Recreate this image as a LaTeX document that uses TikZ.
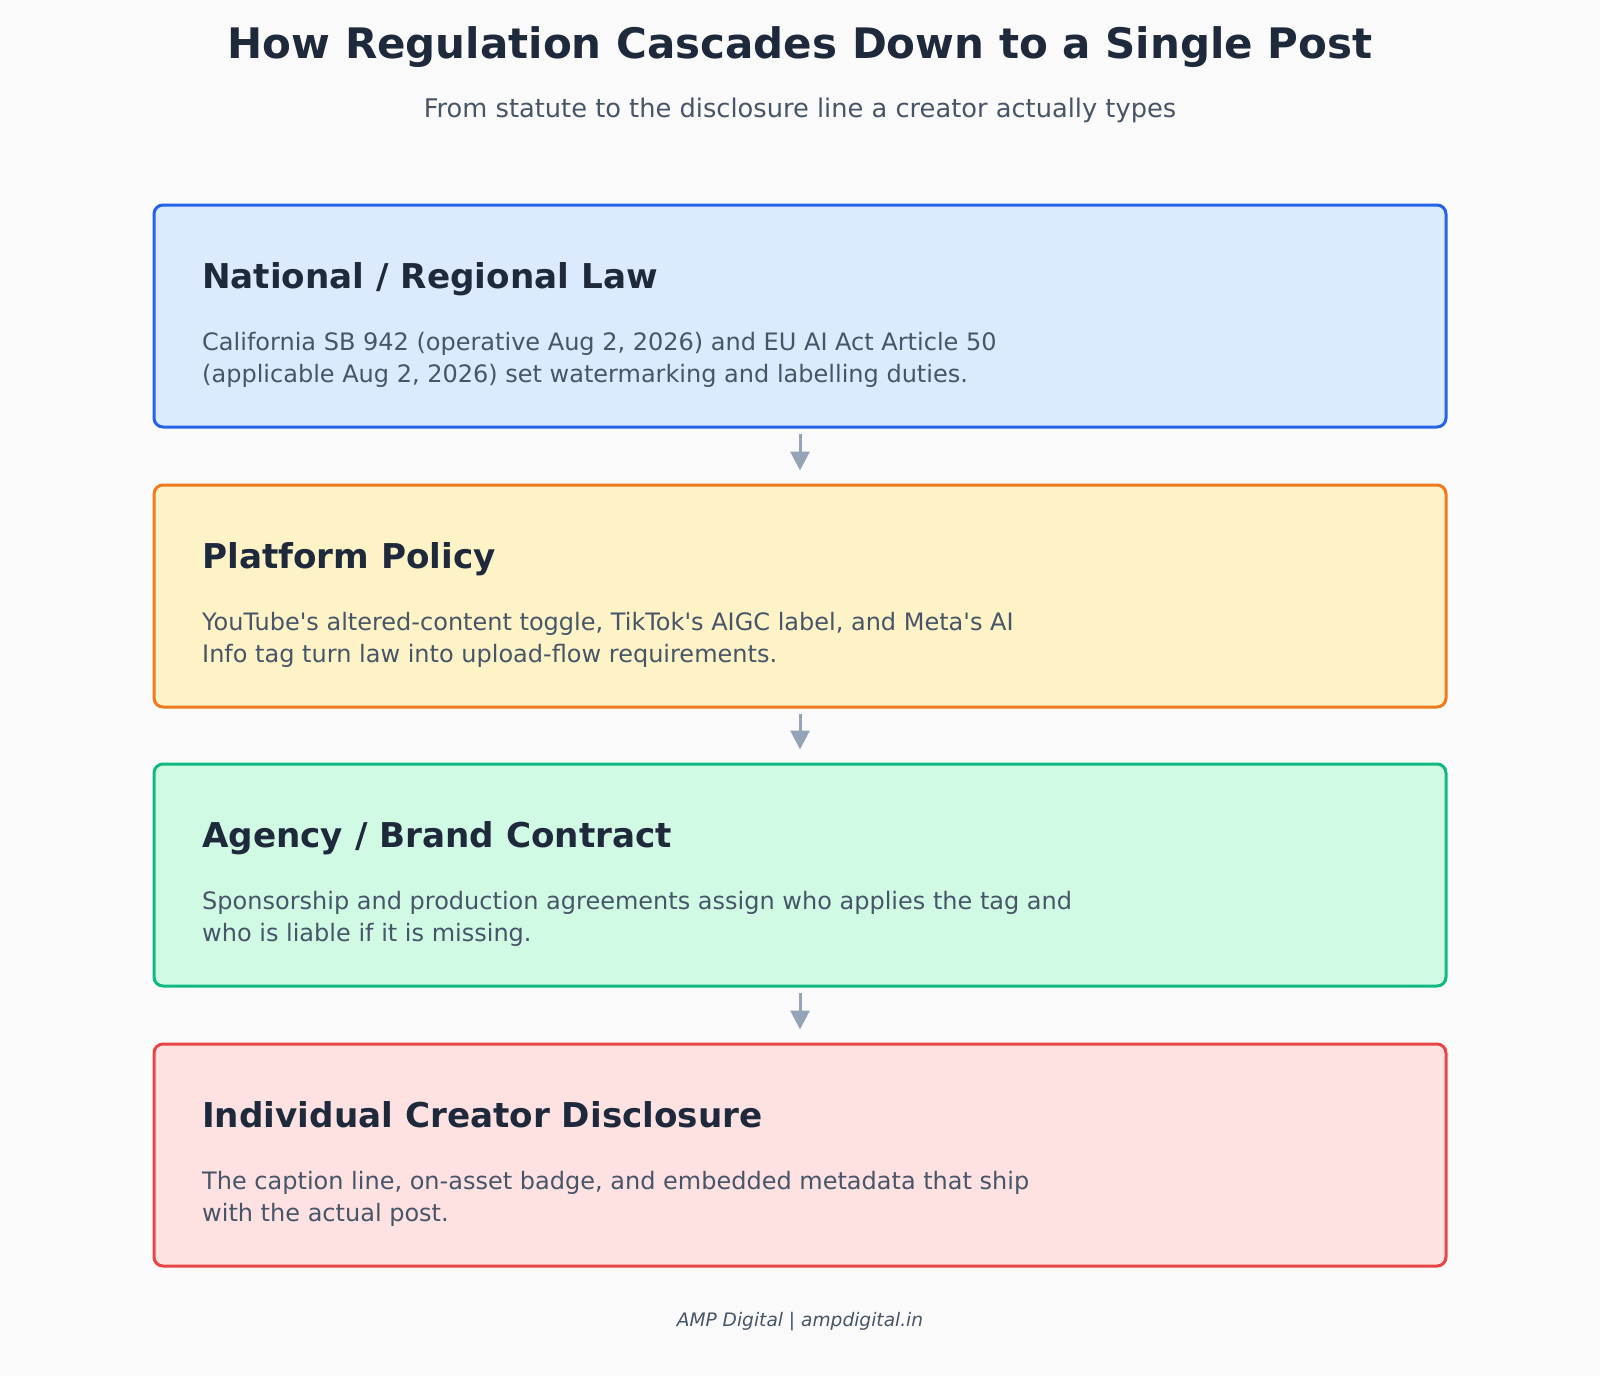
\documentclass[tikz,border=0pt]{standalone}
\usepackage{fontspec}
\setmainfont{DejaVu Sans}
\usetikzlibrary{arrows.meta}
\definecolor{bg}{HTML}{FAFAFA}
\definecolor{titlec}{HTML}{1E293B}
\definecolor{bodyc}{HTML}{475569}
\definecolor{arrowc}{HTML}{94A3B8}
\definecolor{blueb}{HTML}{2563EB}\definecolor{bluef}{HTML}{DBEAFE}
\definecolor{orangeb}{HTML}{F07A1E}\definecolor{orangef}{HTML}{FEF3C7}
\definecolor{greenb}{HTML}{10B981}\definecolor{greenf}{HTML}{D1FAE5}
\definecolor{redb}{HTML}{E84545}\definecolor{redf}{HTML}{FEE2E2}
\newcommand{\sq}{\textquotesingle}
\tikzset{
  stagebox/.style={draw=#1b, fill=#1f, line width=3pt, rounded corners=9pt,
    minimum width=1292pt, minimum height=222pt, inner sep=0pt},
  headtext/.style={anchor=base west, inner sep=0pt, text=titlec,
    font=\fontsize{34.2}{40}\selectfont\bfseries},
  bodytext/.style={anchor=north west, inner sep=0pt, text=bodyc, align=left,
    font=\fontsize{24}{32}\selectfont},
  flow/.style={draw=arrowc, line width=3pt, -{Triangle[width=19pt,length=19pt]}},
}
\begin{document}
\begin{tikzpicture}[x=1pt,y=-1pt]
\fill[bg] (0,0) rectangle (1600,1376);
\useasboundingbox (0,0) rectangle (1600,1376);
\node[anchor=base, text=titlec, font=\fontsize{42}{48}\selectfont\bfseries, inner sep=0pt] (title) at (800,58) {How Regulation Cascades Down to a Single Post};
\node[anchor=base, text=bodyc, font=\fontsize{25.7}{30}\selectfont, inner sep=0pt] (subtitle) at (800,117) {From statute to the disclosure line a creator actually types};

\node[stagebox=blue] (b1) at (800,316) {};
\node[stagebox=orange] (b2) at (800,596) {};
\node[stagebox=green] (b3) at (800,875) {};
\node[stagebox=red] (b4) at (800,1155) {};

\node[headtext] (h1) at (202,288) {National / Regional Law};
\node[bodytext] (t1) at (202,332) {California SB 942 (operative Aug 2, 2026) and EU AI Act Article 50\\(applicable Aug 2, 2026) set watermarking and labelling duties.};
\node[headtext] (h2) at (202,568) {Platform Policy};
\node[bodytext] (t2) at (202,612) {YouTube\sq s altered-content toggle, TikTok\sq s AIGC label, and Meta\sq s AI\\Info tag turn law into upload-flow requirements.};
\node[headtext] (h3) at (202,847) {Agency / Brand Contract};
\node[bodytext] (t3) at (202,891) {Sponsorship and production agreements assign who applies the tag and\\who is liable if it is missing.};
\node[headtext] (h4) at (202,1127) {Individual Creator Disclosure};
\node[bodytext] (t4) at (202,1171) {The caption line, on-asset badge, and embedded metadata that ship\\with the actual post.};

\draw[flow] ([yshift=-5pt]b1.south) -- ([yshift=13pt]b2.north);
\draw[flow] ([yshift=-5pt]b2.south) -- ([yshift=13pt]b3.north);
\draw[flow] ([yshift=-5pt]b3.south) -- ([yshift=13pt]b4.north);

\node[anchor=base, text=bodyc, font=\fontsize{18.6}{22}\selectfont\itshape, inner sep=0pt] (footer) at (800,1326) {AMP Digital | ampdigital.in};
\end{tikzpicture}
\end{document}
